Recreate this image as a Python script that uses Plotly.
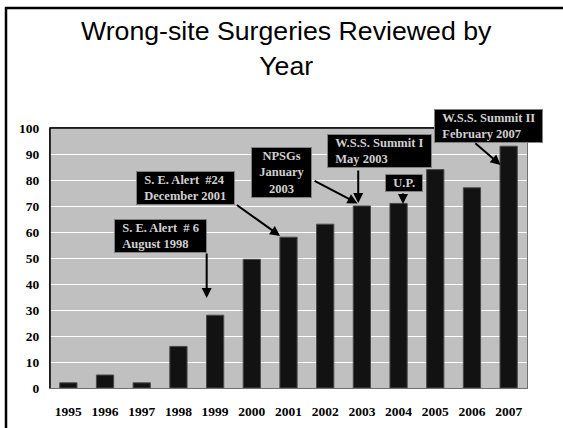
import plotly.graph_objects as go

# ---- data ----
years = ["1995", "1996", "1997", "1998", "1999", "2000", "2001",
         "2002", "2003", "2004", "2005", "2006", "2007"]
reviewed = [2, 5, 2, 16, 28, 49.5, 58, 63, 70, 71, 84, 77, 93]

title_text = "Wrong-site Surgeries Reviewed by<br>Year"

event_labels = [
    ["S. E. Alert  # 6", "August 1998"],
    ["S. E. Alert  #24", "December 2001"],
    ["NPSGs", "January", "2003"],
    ["W.S.S. Summit I", "May 2003"],
    ["U.P."],
    ["W.S.S. Summit II", "February 2007"],
]
event_align = ["left", "left", "center", "left", "center", "left"]
# label box centre (category index, value)
event_box_x = [2.52, 3.20, 5.80, 8.48, 9.15, 11.44]
event_box_y = [58.5, 77.1, 82.9, 91.2, 79.0, 100.8]
# arrow tail and tip (category index, value)
arrow_tail_x = [3.77, 4.55, 6.67, 7.90, 9.12, 11.05]
arrow_tail_y = [52.3, 70.8, 80.0, 84.2, 75.4, 94.6]
arrow_tip_x = [3.77, 5.77, 7.88, 7.90, 9.12, 11.78]
arrow_tip_y = [34.6, 58.5, 71.0, 71.2, 70.8, 85.8]

Y_MAX = 100

# ---- layout geometry ----
W, H = 563, 428
ML, MR, MT, MB = 50, 36, 128, 40
PW = W - ML - MR
PH = H - MT - MB


def px_to_paper_x(px):
    return (px - ML) / PW


def px_to_paper_y(py):
    return (H - MB - py) / PH


serif = "Liberation Serif, Times New Roman, serif"
pad = "&nbsp;&nbsp;"

fig = go.Figure()
fig.add_trace(go.Bar(
    x=years, y=reviewed,
    marker=dict(color="#121212", line=dict(color="#4a4a4a", width=1)),
    width=0.47,
))

annotations = []
for i, lines in enumerate(event_labels):
    txt = "<br>".join(pad + ln + pad for ln in lines)
    annotations.append(dict(
        x=event_box_x[i], y=event_box_y[i] / Y_MAX, xref="x", yref="paper",
        text="<b>" + txt + "</b>", showarrow=False, align=event_align[i],
        font=dict(family=serif, size=12.5, color="#d0d0d0"),
        bgcolor="#000000", bordercolor="#808080", borderwidth=1, borderpad=1,
        xanchor="center", yanchor="middle",
    ))
    annotations.append(dict(
        x=arrow_tip_x[i], y=arrow_tip_y[i], xref="x", yref="y",
        ax=arrow_tail_x[i], ay=arrow_tail_y[i], axref="x", ayref="y",
        text="", showarrow=True, arrowhead=2, arrowsize=1, arrowwidth=2,
        arrowcolor="#000000", standoff=0, startstandoff=0,
    ))

# title as a paper annotation
annotations.append(dict(
    text=title_text, xref="paper", yref="paper",
    x=px_to_paper_x(286), y=px_to_paper_y(14), xanchor="center", yanchor="top",
    showarrow=False, align="center",
    font=dict(family="Liberation Sans, Arial, sans-serif", size=26.7, color="#000000"),
))

shapes = [
    # outer frame (left and top)
    dict(type="line", xref="paper", yref="paper",
         x0=px_to_paper_x(6), x1=px_to_paper_x(6),
         y0=px_to_paper_y(7), y1=px_to_paper_y(H + 5),
         line=dict(color="#000000", width=2.5)),
    dict(type="line", xref="paper", yref="paper",
         x0=px_to_paper_x(5), x1=px_to_paper_x(W + 5),
         y0=px_to_paper_y(8), y1=px_to_paper_y(8),
         line=dict(color="#000000", width=2.5)),
    # plot-area dark top and left edges
    dict(type="line", xref="paper", yref="paper", x0=0, x1=1, y0=1, y1=1,
         line=dict(color="#000000", width=1.5)),
    dict(type="line", xref="paper", yref="paper", x0=0, x1=0, y0=0, y1=1,
         line=dict(color="#000000", width=1.5)),
]

fig.update_layout(
    width=W, height=H,
    margin=dict(l=ML, r=MR, t=MT, b=MB, autoexpand=False),
    paper_bgcolor="#ffffff",
    plot_bgcolor="#c0c0c0",
    showlegend=False,
    xaxis=dict(type="category", range=[-0.5, len(years) - 0.5],
               showgrid=False, showline=True, automargin=False,
               linecolor="#707070", linewidth=1, mirror=True,
               tickfont=dict(family=serif, size=13.5, color="#000000", weight="bold"),
               ticklabelstandoff=11),
    yaxis=dict(range=[0, Y_MAX], dtick=10, showgrid=True, gridcolor="#ffffff",
               gridwidth=1, zeroline=False, showline=True, linecolor="#707070",
               linewidth=1, mirror=True, automargin=False,
               tickfont=dict(family=serif, size=13.5, color="#000000", weight="bold"),
               ticklabelstandoff=7),
    annotations=annotations,
    shapes=shapes,
    bargap=0.53,
)

fig.write_html(
    "out.html",
    config={"displayModeBar": False},
    post_script="document.body.style.margin='0';document.body.style.overflow='hidden';",
)
